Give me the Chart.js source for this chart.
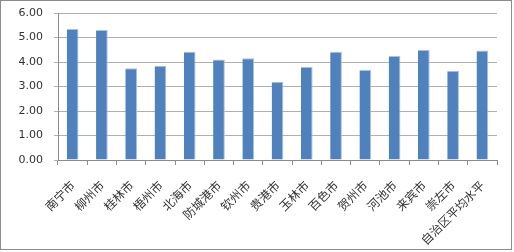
<!DOCTYPE html>
<html>
<head>
<meta charset="utf-8">
<script src="https://cdn.jsdelivr.net/npm/chart.js@4"></script>
<style>
  body { margin: 0; background: #fff; }
  #wrap { width: 514px; height: 252px; position: relative; }
</style>
</head>
<body>
<div id="wrap"><canvas id="grafico"></canvas></div>
<script>
var cidades = ["南宁市", "柳州市", "桂林市", "梧州市", "北海市", "防城港市", "钦州市", "贵港市", "玉林市", "百色市", "贺州市", "河池市", "来宾市", "崇左市", "自治区平均水平"];
var valores = [5.35, 5.31, 3.74, 3.85, 4.42, 4.10, 4.15, 3.19, 3.80, 4.42, 3.67, 4.24, 4.49, 3.64, 4.47];
var eixoY = [0, 1, 2, 3, 4, 5, 6];

// moldura cinza em volta do grafico
var moldura = {
  id: "moldura",
  afterDraw: function (chart) {
    var ctx = chart.ctx;
    ctx.save();
    ctx.strokeStyle = "#8c8c8c";
    ctx.lineWidth = 1;
    ctx.strokeRect(0.5, 0.5, 511, 249);
    ctx.restore();
  }
};

var ctx = document.getElementById("grafico").getContext("2d");
var chart = new Chart(ctx, {
  type: "bar",
  data: {
    labels: cidades,
    datasets: [
      {
        data: valores,
        backgroundColor: "#4f81bd",
        borderColor: "#a9c1e0",
        borderWidth: { top: 1, left: 0, right: 1, bottom: 0 },
        categoryPercentage: 1,
        barPercentage: 0.4,
      },
    ],
  },
  options: {
    responsive: true,
    maintainAspectRatio: false,
    animation: false,
    layout: {
      padding: { top: 13, right: 17, left: 0, bottom: 0 },
    },
    plugins: {
      legend: { display: false },
      tooltip: { enabled: false },
    },
    scales: {
      y: {
        min: 0,
        max: 6,
        afterFit: function (scale) {
          scale.width = 58;
          scale.paddingTop = 0;
          scale.paddingBottom = 0;
        },
        afterBuildTicks: function (scale) {
          scale.ticks = eixoY.map(function (v) { return { value: v }; });
        },
        border: { color: "#8c8c8c" },
        grid: {
          color: "#b0b0b0",
          tickLength: 4,
        },
        ticks: {
          padding: 11,
          color: "#333",
          font: { size: 11, family: "DejaVu Sans" },
          callback: function (v) { return v.toFixed(2); },
        },
      },
      x: {
        afterFit: function (scale) { scale.height = 92; },
        border: { color: "#8c8c8c" },
        grid: {
          offset: true,
          drawOnChartArea: false,
          color: "#8c8c8c",
          tickLength: 5,
        },
        ticks: {
          minRotation: 45,
          maxRotation: 45,
          autoSkip: false,
          padding: 13,
          color: "#333",
          font: { size: 12, family: "Noto Sans CJK SC" },
        },
      },
    },
  },
  plugins: [moldura],
});
</script>
</body>
</html>
